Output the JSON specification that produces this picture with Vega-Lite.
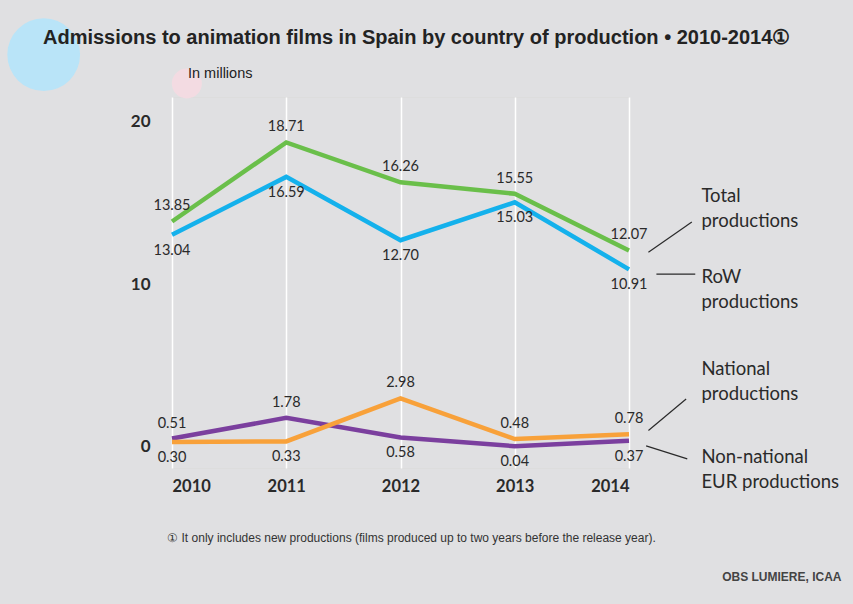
{
  "$schema": "https://vega.github.io/schema/vega-lite/v6.json",
  "autosize": "none",
  "width": 457,
  "height": 371,
  "padding": {"left": 172, "top": 97, "right": 224, "bottom": 136},
  "background": "#e0e0e2",
  "title": {
    "text": "Admissions to animation films in Spain by country of production • 2010-2014①",
    "anchor": "start",
    "frame": "group",
    "dx": -129,
    "offset": -30,
    "font": "Liberation Sans",
    "fontSize": 20,
    "fontWeight": "bold",
    "color": "#232323"
  },
  "data": {
    "values": [
      {"year": 2010, "series": "Total", "value": 13.85},
      {"year": 2011, "series": "Total", "value": 18.71},
      {"year": 2012, "series": "Total", "value": 16.26},
      {"year": 2013, "series": "Total", "value": 15.55},
      {"year": 2014, "series": "Total", "value": 12.07},
      {"year": 2010, "series": "RoW", "value": 13.04},
      {"year": 2011, "series": "RoW", "value": 16.59},
      {"year": 2012, "series": "RoW", "value": 12.70},
      {"year": 2013, "series": "RoW", "value": 15.03},
      {"year": 2014, "series": "RoW", "value": 10.91},
      {"year": 2010, "series": "Non-national EUR", "value": 0.51},
      {"year": 2011, "series": "Non-national EUR", "value": 1.78},
      {"year": 2012, "series": "Non-national EUR", "value": 0.58},
      {"year": 2013, "series": "Non-national EUR", "value": 0.04},
      {"year": 2014, "series": "Non-national EUR", "value": 0.37},
      {"year": 2010, "series": "National", "value": 0.30},
      {"year": 2011, "series": "National", "value": 0.33},
      {"year": 2012, "series": "National", "value": 2.98},
      {"year": 2013, "series": "National", "value": 0.48},
      {"year": 2014, "series": "National", "value": 0.78}
    ]
  },
  "encoding": {
    "x": {
      "field": "year",
      "type": "quantitative",
      "scale": {"domain": [2010, 2014], "nice": false, "zero": false},
      "axis": {
        "values": [2010, 2011, 2012, 2013, 2014],
        "format": "d",
        "grid": true,
        "gridColor": "#ffffff",
        "gridWidth": 1.5,
        "domain": false,
        "ticks": false,
        "labelPadding": 10,
        "labelFont": "Lato",
        "labelFontSize": 16.5,
        "labelFontWeight": "bold",
        "labelColor": "#2a2a2a",
        "labelBaseline": "top",
        "title": "① It only includes new productions (films produced up to two years before the release year).",
        "titleFont": "Liberation Sans",
        "titleFontSize": 12,
        "titleFontWeight": "normal",
        "titleColor": "#333333",
        "titlePadding": 38,
        "titleX": 239
      }
    },
    "y": {
      "field": "value",
      "type": "quantitative",
      "scale": {"domain": [-1.3, 21.5], "nice": false, "zero": false},
      "axis": {
        "values": [0, 10, 20],
        "grid": false,
        "domain": false,
        "ticks": false,
        "labelPadding": 22,
        "labelFont": "Lato",
        "labelFontSize": 17,
        "labelFontWeight": "bold",
        "labelColor": "#2a2a2a",
        "title": null
      }
    },
    "color": {
      "field": "series",
      "type": "nominal",
      "scale": {
        "domain": ["Total", "RoW", "Non-national EUR", "National"],
        "range": ["#6abf4a", "#14b1ec", "#7b3f9e", "#f8a13a"]
      },
      "legend": null
    }
  },
  "layer": [
    {
      "transform": [{"filter": "datum.year == 2010 && datum.series == 'Total'"}],
      "mark": {"type": "point", "filled": true, "opacity": 1, "size": 5300, "color": "#b9e4f8"},
      "encoding": {
        "x": {"datum": 2008.877},
        "y": {"datum": 24.1},
        "color": {"value": "#b9e4f8"}
      }
    },
    {
      "transform": [{"filter": "datum.year == 2010 && datum.series == 'Total'"}],
      "mark": {"type": "point", "filled": true, "opacity": 1, "size": 900, "color": "#f3dbe2"},
      "encoding": {
        "x": {"datum": 2010.13},
        "y": {"datum": 22.33},
        "color": {"value": "#f3dbe2"}
      }
    },
    {
      "transform": [{"filter": "datum.year == 2010 && datum.series == 'Total'"}],
      "mark": {"type": "text", "align": "left", "baseline": "middle", "font": "Liberation Sans", "fontSize": 14.5, "color": "#222222"},
      "encoding": {
        "x": {"datum": 2010.14},
        "y": {"datum": 22.94},
        "text": {"value": "In millions"},
        "color": {"value": "#222222"}
      }
    },
    {
      "mark": {"type": "line", "strokeWidth": 4.5, "strokeJoin": "miter"}
    },
    {
      "transform": [
        {"filter": "datum.series == 'Total' || (datum.series == 'National' && datum.year >= 2012) || (datum.series == 'Non-national EUR' && datum.year <= 2011)"}
      ],
      "mark": {"type": "text", "baseline": "middle", "dy": -15, "font": "Lato", "fontSize": 14.5, "color": "#2a2a2a"},
      "encoding": {
        "text": {"field": "value", "type": "quantitative", "format": ".2f"},
        "color": {"value": "#2a2a2a"}
      }
    },
    {
      "transform": [
        {"filter": "datum.series == 'RoW' || (datum.series == 'National' && datum.year <= 2011) || (datum.series == 'Non-national EUR' && datum.year >= 2012)"}
      ],
      "mark": {"type": "text", "baseline": "middle", "dy": 16, "font": "Lato", "fontSize": 14.5, "color": "#2a2a2a"},
      "encoding": {
        "text": {"field": "value", "type": "quantitative", "format": ".2f"},
        "color": {"value": "#2a2a2a"}
      }
    },
    {
      "transform": [{"filter": "datum.year == 2010 && datum.series == 'Total'"}],
      "mark": {"type": "rule", "color": "#2a2a2a", "strokeWidth": 1.2},
      "encoding": {
        "x": {"datum": 2014.17}, "y": {"datum": 11.96},
        "x2": {"datum": 2014.55}, "y2": {"datum": 13.82},
        "color": {"value": "#2a2a2a"}
      }
    },
    {
      "transform": [{"filter": "datum.year == 2010 && datum.series == 'Total'"}],
      "mark": {"type": "rule", "color": "#2a2a2a", "strokeWidth": 1.2},
      "encoding": {
        "x": {"datum": 2014.24}, "y": {"datum": 10.61},
        "x2": {"datum": 2014.58}, "y2": {"datum": 10.61},
        "color": {"value": "#2a2a2a"}
      }
    },
    {
      "transform": [{"filter": "datum.year == 2010 && datum.series == 'Total'"}],
      "mark": {"type": "rule", "color": "#2a2a2a", "strokeWidth": 1.2},
      "encoding": {
        "x": {"datum": 2014.17}, "y": {"datum": 1.0},
        "x2": {"datum": 2014.5}, "y2": {"datum": 2.94},
        "color": {"value": "#2a2a2a"}
      }
    },
    {
      "transform": [{"filter": "datum.year == 2010 && datum.series == 'Total'"}],
      "mark": {"type": "rule", "color": "#2a2a2a", "strokeWidth": 1.2},
      "encoding": {
        "x": {"datum": 2014.15}, "y": {"datum": 0.06},
        "x2": {"datum": 2014.51}, "y2": {"datum": -0.74},
        "color": {"value": "#2a2a2a"}
      }
    },
    {
      "transform": [{"filter": "datum.year == 2010 && datum.series == 'Total'"}],
      "mark": {"type": "text", "align": "left", "baseline": "alphabetic", "font": "Lato", "fontSize": 18.5, "lineHeight": 25, "color": "#2a2a2a"},
      "encoding": {
        "x": {"datum": 2014.634}, "y": {"datum": 15.03},
        "text": {"value": ["Total", "productions"]},
        "color": {"value": "#2a2a2a"}
      }
    },
    {
      "transform": [{"filter": "datum.year == 2010 && datum.series == 'Total'"}],
      "mark": {"type": "text", "align": "left", "baseline": "alphabetic", "font": "Lato", "fontSize": 18.5, "lineHeight": 25, "color": "#2a2a2a"},
      "encoding": {
        "x": {"datum": 2014.634}, "y": {"datum": 10.06},
        "text": {"value": ["RoW", "productions"]},
        "color": {"value": "#2a2a2a"}
      }
    },
    {
      "transform": [{"filter": "datum.year == 2010 && datum.series == 'Total'"}],
      "mark": {"type": "text", "align": "left", "baseline": "alphabetic", "font": "Lato", "fontSize": 18.5, "lineHeight": 25, "color": "#2a2a2a"},
      "encoding": {
        "x": {"datum": 2014.634}, "y": {"datum": 4.42},
        "text": {"value": ["National", "productions"]},
        "color": {"value": "#2a2a2a"}
      }
    },
    {
      "transform": [{"filter": "datum.year == 2010 && datum.series == 'Total'"}],
      "mark": {"type": "text", "align": "left", "baseline": "alphabetic", "font": "Lato", "fontSize": 18.5, "lineHeight": 25, "color": "#2a2a2a"},
      "encoding": {
        "x": {"datum": 2014.634}, "y": {"datum": -0.98},
        "text": {"value": ["Non-national", "EUR productions"]},
        "color": {"value": "#2a2a2a"}
      }
    },
    {
      "transform": [{"filter": "datum.year == 2010 && datum.series == 'Total'"}],
      "mark": {"type": "text", "align": "right", "baseline": "middle", "font": "Liberation Sans", "fontSize": 12, "fontWeight": "bold", "color": "#444444"},
      "encoding": {
        "x": {"datum": 2015.86}, "y": {"datum": -7.97},
        "text": {"value": "OBS LUMIERE, ICAA"},
        "color": {"value": "#444444"}
      }
    }
  ]
}
